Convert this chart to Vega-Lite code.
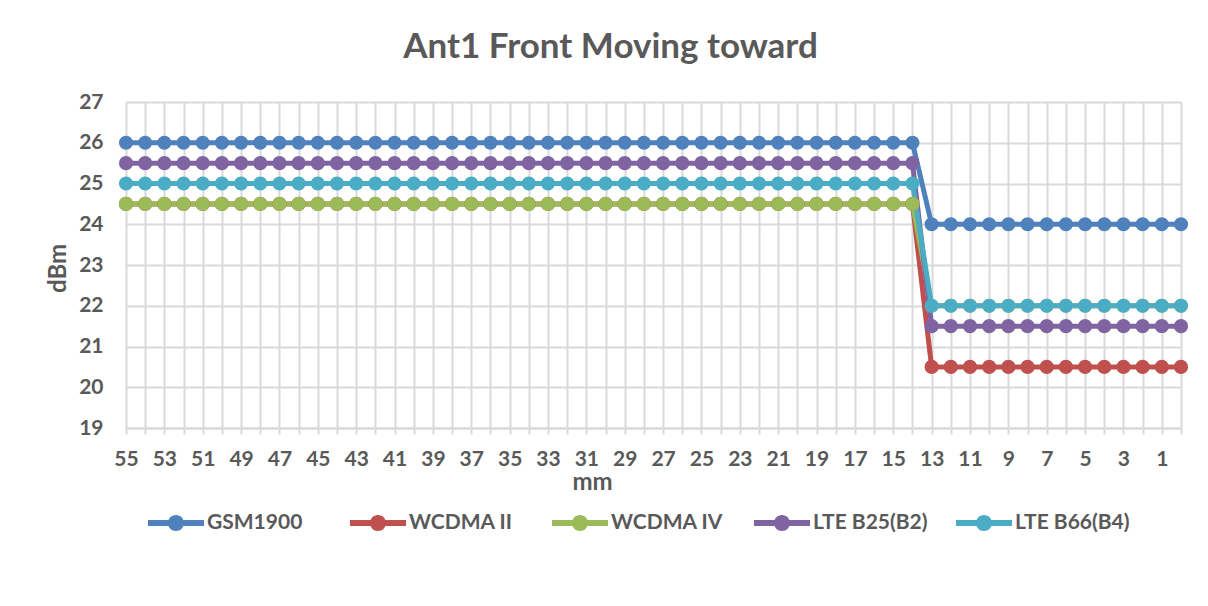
{
  "$schema": "https://vega.github.io/schema/vega-lite/v6.json",
  "autosize": {"type": "none"},
  "width": 1055,
  "height": 326,
  "padding": {"left": 126, "top": 102, "right": 27, "bottom": 178},
  "background": "white",
  "title": {"text": "Ant1 Front Moving toward", "font": "Lato", "fontSize": 35, "fontWeight": "bold", "color": "#595959", "anchor": "middle", "dx": -43, "baseline": "alphabetic", "offset": -2},
  "config": {"view": {"stroke": null}},
  "data": {"values": [
    {"mm":55,"s":"GSM1900","v":26},{"mm":54,"s":"GSM1900","v":26},{"mm":53,"s":"GSM1900","v":26},{"mm":52,"s":"GSM1900","v":26},{"mm":51,"s":"GSM1900","v":26},{"mm":50,"s":"GSM1900","v":26},{"mm":49,"s":"GSM1900","v":26},{"mm":48,"s":"GSM1900","v":26},{"mm":47,"s":"GSM1900","v":26},{"mm":46,"s":"GSM1900","v":26},{"mm":45,"s":"GSM1900","v":26},{"mm":44,"s":"GSM1900","v":26},{"mm":43,"s":"GSM1900","v":26},{"mm":42,"s":"GSM1900","v":26},{"mm":41,"s":"GSM1900","v":26},{"mm":40,"s":"GSM1900","v":26},{"mm":39,"s":"GSM1900","v":26},{"mm":38,"s":"GSM1900","v":26},{"mm":37,"s":"GSM1900","v":26},{"mm":36,"s":"GSM1900","v":26},{"mm":35,"s":"GSM1900","v":26},{"mm":34,"s":"GSM1900","v":26},{"mm":33,"s":"GSM1900","v":26},{"mm":32,"s":"GSM1900","v":26},{"mm":31,"s":"GSM1900","v":26},{"mm":30,"s":"GSM1900","v":26},{"mm":29,"s":"GSM1900","v":26},{"mm":28,"s":"GSM1900","v":26},{"mm":27,"s":"GSM1900","v":26},{"mm":26,"s":"GSM1900","v":26},{"mm":25,"s":"GSM1900","v":26},{"mm":24,"s":"GSM1900","v":26},{"mm":23,"s":"GSM1900","v":26},{"mm":22,"s":"GSM1900","v":26},{"mm":21,"s":"GSM1900","v":26},{"mm":20,"s":"GSM1900","v":26},{"mm":19,"s":"GSM1900","v":26},{"mm":18,"s":"GSM1900","v":26},{"mm":17,"s":"GSM1900","v":26},{"mm":16,"s":"GSM1900","v":26},{"mm":15,"s":"GSM1900","v":26},{"mm":14,"s":"GSM1900","v":26},{"mm":13,"s":"GSM1900","v":24},{"mm":12,"s":"GSM1900","v":24},{"mm":11,"s":"GSM1900","v":24},{"mm":10,"s":"GSM1900","v":24},{"mm":9,"s":"GSM1900","v":24},{"mm":8,"s":"GSM1900","v":24},{"mm":7,"s":"GSM1900","v":24},{"mm":6,"s":"GSM1900","v":24},{"mm":5,"s":"GSM1900","v":24},{"mm":4,"s":"GSM1900","v":24},{"mm":3,"s":"GSM1900","v":24},{"mm":2,"s":"GSM1900","v":24},{"mm":1,"s":"GSM1900","v":24},{"mm":0,"s":"GSM1900","v":24},
    {"mm":55,"s":"WCDMA II","v":24.5},{"mm":54,"s":"WCDMA II","v":24.5},{"mm":53,"s":"WCDMA II","v":24.5},{"mm":52,"s":"WCDMA II","v":24.5},{"mm":51,"s":"WCDMA II","v":24.5},{"mm":50,"s":"WCDMA II","v":24.5},{"mm":49,"s":"WCDMA II","v":24.5},{"mm":48,"s":"WCDMA II","v":24.5},{"mm":47,"s":"WCDMA II","v":24.5},{"mm":46,"s":"WCDMA II","v":24.5},{"mm":45,"s":"WCDMA II","v":24.5},{"mm":44,"s":"WCDMA II","v":24.5},{"mm":43,"s":"WCDMA II","v":24.5},{"mm":42,"s":"WCDMA II","v":24.5},{"mm":41,"s":"WCDMA II","v":24.5},{"mm":40,"s":"WCDMA II","v":24.5},{"mm":39,"s":"WCDMA II","v":24.5},{"mm":38,"s":"WCDMA II","v":24.5},{"mm":37,"s":"WCDMA II","v":24.5},{"mm":36,"s":"WCDMA II","v":24.5},{"mm":35,"s":"WCDMA II","v":24.5},{"mm":34,"s":"WCDMA II","v":24.5},{"mm":33,"s":"WCDMA II","v":24.5},{"mm":32,"s":"WCDMA II","v":24.5},{"mm":31,"s":"WCDMA II","v":24.5},{"mm":30,"s":"WCDMA II","v":24.5},{"mm":29,"s":"WCDMA II","v":24.5},{"mm":28,"s":"WCDMA II","v":24.5},{"mm":27,"s":"WCDMA II","v":24.5},{"mm":26,"s":"WCDMA II","v":24.5},{"mm":25,"s":"WCDMA II","v":24.5},{"mm":24,"s":"WCDMA II","v":24.5},{"mm":23,"s":"WCDMA II","v":24.5},{"mm":22,"s":"WCDMA II","v":24.5},{"mm":21,"s":"WCDMA II","v":24.5},{"mm":20,"s":"WCDMA II","v":24.5},{"mm":19,"s":"WCDMA II","v":24.5},{"mm":18,"s":"WCDMA II","v":24.5},{"mm":17,"s":"WCDMA II","v":24.5},{"mm":16,"s":"WCDMA II","v":24.5},{"mm":15,"s":"WCDMA II","v":24.5},{"mm":14,"s":"WCDMA II","v":24.5},{"mm":13,"s":"WCDMA II","v":20.5},{"mm":12,"s":"WCDMA II","v":20.5},{"mm":11,"s":"WCDMA II","v":20.5},{"mm":10,"s":"WCDMA II","v":20.5},{"mm":9,"s":"WCDMA II","v":20.5},{"mm":8,"s":"WCDMA II","v":20.5},{"mm":7,"s":"WCDMA II","v":20.5},{"mm":6,"s":"WCDMA II","v":20.5},{"mm":5,"s":"WCDMA II","v":20.5},{"mm":4,"s":"WCDMA II","v":20.5},{"mm":3,"s":"WCDMA II","v":20.5},{"mm":2,"s":"WCDMA II","v":20.5},{"mm":1,"s":"WCDMA II","v":20.5},{"mm":0,"s":"WCDMA II","v":20.5},
    {"mm":55,"s":"WCDMA IV","v":24.5},{"mm":54,"s":"WCDMA IV","v":24.5},{"mm":53,"s":"WCDMA IV","v":24.5},{"mm":52,"s":"WCDMA IV","v":24.5},{"mm":51,"s":"WCDMA IV","v":24.5},{"mm":50,"s":"WCDMA IV","v":24.5},{"mm":49,"s":"WCDMA IV","v":24.5},{"mm":48,"s":"WCDMA IV","v":24.5},{"mm":47,"s":"WCDMA IV","v":24.5},{"mm":46,"s":"WCDMA IV","v":24.5},{"mm":45,"s":"WCDMA IV","v":24.5},{"mm":44,"s":"WCDMA IV","v":24.5},{"mm":43,"s":"WCDMA IV","v":24.5},{"mm":42,"s":"WCDMA IV","v":24.5},{"mm":41,"s":"WCDMA IV","v":24.5},{"mm":40,"s":"WCDMA IV","v":24.5},{"mm":39,"s":"WCDMA IV","v":24.5},{"mm":38,"s":"WCDMA IV","v":24.5},{"mm":37,"s":"WCDMA IV","v":24.5},{"mm":36,"s":"WCDMA IV","v":24.5},{"mm":35,"s":"WCDMA IV","v":24.5},{"mm":34,"s":"WCDMA IV","v":24.5},{"mm":33,"s":"WCDMA IV","v":24.5},{"mm":32,"s":"WCDMA IV","v":24.5},{"mm":31,"s":"WCDMA IV","v":24.5},{"mm":30,"s":"WCDMA IV","v":24.5},{"mm":29,"s":"WCDMA IV","v":24.5},{"mm":28,"s":"WCDMA IV","v":24.5},{"mm":27,"s":"WCDMA IV","v":24.5},{"mm":26,"s":"WCDMA IV","v":24.5},{"mm":25,"s":"WCDMA IV","v":24.5},{"mm":24,"s":"WCDMA IV","v":24.5},{"mm":23,"s":"WCDMA IV","v":24.5},{"mm":22,"s":"WCDMA IV","v":24.5},{"mm":21,"s":"WCDMA IV","v":24.5},{"mm":20,"s":"WCDMA IV","v":24.5},{"mm":19,"s":"WCDMA IV","v":24.5},{"mm":18,"s":"WCDMA IV","v":24.5},{"mm":17,"s":"WCDMA IV","v":24.5},{"mm":16,"s":"WCDMA IV","v":24.5},{"mm":15,"s":"WCDMA IV","v":24.5},{"mm":14,"s":"WCDMA IV","v":24.5},{"mm":13,"s":"WCDMA IV","v":22},{"mm":12,"s":"WCDMA IV","v":22},{"mm":11,"s":"WCDMA IV","v":22},{"mm":10,"s":"WCDMA IV","v":22},{"mm":9,"s":"WCDMA IV","v":22},{"mm":8,"s":"WCDMA IV","v":22},{"mm":7,"s":"WCDMA IV","v":22},{"mm":6,"s":"WCDMA IV","v":22},{"mm":5,"s":"WCDMA IV","v":22},{"mm":4,"s":"WCDMA IV","v":22},{"mm":3,"s":"WCDMA IV","v":22},{"mm":2,"s":"WCDMA IV","v":22},{"mm":1,"s":"WCDMA IV","v":22},{"mm":0,"s":"WCDMA IV","v":22},
    {"mm":55,"s":"LTE B25(B2)","v":25.5},{"mm":54,"s":"LTE B25(B2)","v":25.5},{"mm":53,"s":"LTE B25(B2)","v":25.5},{"mm":52,"s":"LTE B25(B2)","v":25.5},{"mm":51,"s":"LTE B25(B2)","v":25.5},{"mm":50,"s":"LTE B25(B2)","v":25.5},{"mm":49,"s":"LTE B25(B2)","v":25.5},{"mm":48,"s":"LTE B25(B2)","v":25.5},{"mm":47,"s":"LTE B25(B2)","v":25.5},{"mm":46,"s":"LTE B25(B2)","v":25.5},{"mm":45,"s":"LTE B25(B2)","v":25.5},{"mm":44,"s":"LTE B25(B2)","v":25.5},{"mm":43,"s":"LTE B25(B2)","v":25.5},{"mm":42,"s":"LTE B25(B2)","v":25.5},{"mm":41,"s":"LTE B25(B2)","v":25.5},{"mm":40,"s":"LTE B25(B2)","v":25.5},{"mm":39,"s":"LTE B25(B2)","v":25.5},{"mm":38,"s":"LTE B25(B2)","v":25.5},{"mm":37,"s":"LTE B25(B2)","v":25.5},{"mm":36,"s":"LTE B25(B2)","v":25.5},{"mm":35,"s":"LTE B25(B2)","v":25.5},{"mm":34,"s":"LTE B25(B2)","v":25.5},{"mm":33,"s":"LTE B25(B2)","v":25.5},{"mm":32,"s":"LTE B25(B2)","v":25.5},{"mm":31,"s":"LTE B25(B2)","v":25.5},{"mm":30,"s":"LTE B25(B2)","v":25.5},{"mm":29,"s":"LTE B25(B2)","v":25.5},{"mm":28,"s":"LTE B25(B2)","v":25.5},{"mm":27,"s":"LTE B25(B2)","v":25.5},{"mm":26,"s":"LTE B25(B2)","v":25.5},{"mm":25,"s":"LTE B25(B2)","v":25.5},{"mm":24,"s":"LTE B25(B2)","v":25.5},{"mm":23,"s":"LTE B25(B2)","v":25.5},{"mm":22,"s":"LTE B25(B2)","v":25.5},{"mm":21,"s":"LTE B25(B2)","v":25.5},{"mm":20,"s":"LTE B25(B2)","v":25.5},{"mm":19,"s":"LTE B25(B2)","v":25.5},{"mm":18,"s":"LTE B25(B2)","v":25.5},{"mm":17,"s":"LTE B25(B2)","v":25.5},{"mm":16,"s":"LTE B25(B2)","v":25.5},{"mm":15,"s":"LTE B25(B2)","v":25.5},{"mm":14,"s":"LTE B25(B2)","v":25.5},{"mm":13,"s":"LTE B25(B2)","v":21.5},{"mm":12,"s":"LTE B25(B2)","v":21.5},{"mm":11,"s":"LTE B25(B2)","v":21.5},{"mm":10,"s":"LTE B25(B2)","v":21.5},{"mm":9,"s":"LTE B25(B2)","v":21.5},{"mm":8,"s":"LTE B25(B2)","v":21.5},{"mm":7,"s":"LTE B25(B2)","v":21.5},{"mm":6,"s":"LTE B25(B2)","v":21.5},{"mm":5,"s":"LTE B25(B2)","v":21.5},{"mm":4,"s":"LTE B25(B2)","v":21.5},{"mm":3,"s":"LTE B25(B2)","v":21.5},{"mm":2,"s":"LTE B25(B2)","v":21.5},{"mm":1,"s":"LTE B25(B2)","v":21.5},{"mm":0,"s":"LTE B25(B2)","v":21.5},
    {"mm":55,"s":"LTE B66(B4)","v":25},{"mm":54,"s":"LTE B66(B4)","v":25},{"mm":53,"s":"LTE B66(B4)","v":25},{"mm":52,"s":"LTE B66(B4)","v":25},{"mm":51,"s":"LTE B66(B4)","v":25},{"mm":50,"s":"LTE B66(B4)","v":25},{"mm":49,"s":"LTE B66(B4)","v":25},{"mm":48,"s":"LTE B66(B4)","v":25},{"mm":47,"s":"LTE B66(B4)","v":25},{"mm":46,"s":"LTE B66(B4)","v":25},{"mm":45,"s":"LTE B66(B4)","v":25},{"mm":44,"s":"LTE B66(B4)","v":25},{"mm":43,"s":"LTE B66(B4)","v":25},{"mm":42,"s":"LTE B66(B4)","v":25},{"mm":41,"s":"LTE B66(B4)","v":25},{"mm":40,"s":"LTE B66(B4)","v":25},{"mm":39,"s":"LTE B66(B4)","v":25},{"mm":38,"s":"LTE B66(B4)","v":25},{"mm":37,"s":"LTE B66(B4)","v":25},{"mm":36,"s":"LTE B66(B4)","v":25},{"mm":35,"s":"LTE B66(B4)","v":25},{"mm":34,"s":"LTE B66(B4)","v":25},{"mm":33,"s":"LTE B66(B4)","v":25},{"mm":32,"s":"LTE B66(B4)","v":25},{"mm":31,"s":"LTE B66(B4)","v":25},{"mm":30,"s":"LTE B66(B4)","v":25},{"mm":29,"s":"LTE B66(B4)","v":25},{"mm":28,"s":"LTE B66(B4)","v":25},{"mm":27,"s":"LTE B66(B4)","v":25},{"mm":26,"s":"LTE B66(B4)","v":25},{"mm":25,"s":"LTE B66(B4)","v":25},{"mm":24,"s":"LTE B66(B4)","v":25},{"mm":23,"s":"LTE B66(B4)","v":25},{"mm":22,"s":"LTE B66(B4)","v":25},{"mm":21,"s":"LTE B66(B4)","v":25},{"mm":20,"s":"LTE B66(B4)","v":25},{"mm":19,"s":"LTE B66(B4)","v":25},{"mm":18,"s":"LTE B66(B4)","v":25},{"mm":17,"s":"LTE B66(B4)","v":25},{"mm":16,"s":"LTE B66(B4)","v":25},{"mm":15,"s":"LTE B66(B4)","v":25},{"mm":14,"s":"LTE B66(B4)","v":25},{"mm":13,"s":"LTE B66(B4)","v":22},{"mm":12,"s":"LTE B66(B4)","v":22},{"mm":11,"s":"LTE B66(B4)","v":22},{"mm":10,"s":"LTE B66(B4)","v":22},{"mm":9,"s":"LTE B66(B4)","v":22},{"mm":8,"s":"LTE B66(B4)","v":22},{"mm":7,"s":"LTE B66(B4)","v":22},{"mm":6,"s":"LTE B66(B4)","v":22},{"mm":5,"s":"LTE B66(B4)","v":22},{"mm":4,"s":"LTE B66(B4)","v":22},{"mm":3,"s":"LTE B66(B4)","v":22},{"mm":2,"s":"LTE B66(B4)","v":22},{"mm":1,"s":"LTE B66(B4)","v":22},{"mm":0,"s":"LTE B66(B4)","v":22}
  ]},
  "encoding": {
    "x": {"field": "mm", "type": "ordinal", "sort": "descending",
      "scale": {"type": "point", "padding": 0},
      "axis": {"title": "mm", "labelAngle": 0, "labelOverlap": false,
        "labelExpr": "datum.value % 2 == 1 ? datum.label : ''",
        "labelFont": "Lato", "labelFontSize": 21, "labelFontWeight": "bold", "labelColor": "#595959", "labelPadding": 14,
        "domainColor": "#d9d9d9", "domainWidth": 2, "tickColor": "#d9d9d9", "tickWidth": 2, "tickSize": 6,
        "grid": true, "gridColor": "#d9d9d9", "gridWidth": 2,
        "titleFont": "Lato", "titleFontSize": 24, "titleFontWeight": "bold", "titleColor": "#595959",
        "titleX": 466, "titleY": 61, "titleBaseline": "alphabetic", "titleAlign": "center"}},
    "y": {"field": "v", "type": "quantitative",
      "scale": {"domain": [19, 27], "nice": false, "zero": false},
      "axis": {"title": "dBm", "values": [19,20,21,22,23,24,25,26,27], "domain": false, "ticks": false,
        "labelFont": "Lato", "labelFontSize": 21, "labelFontWeight": "bold", "labelColor": "#595959", "labelPadding": 23,
        "grid": true, "gridColor": "#d9d9d9", "gridWidth": 2,
        "titleFont": "Lato", "titleFontSize": 24, "titleFontWeight": "bold", "titleColor": "#595959",
        "titleX": -68, "titleY": 166, "titleAngle": -90, "titleBaseline": "middle", "titleAlign": "center"}},
    "color": {"field": "s", "type": "nominal",
      "scale": {"domain": ["GSM1900", "WCDMA II", "WCDMA IV", "LTE B25(B2)", "LTE B66(B4)"],
                "range": ["#4F81BD", "#C0504D", "#9BBB59", "#8064A2", "#4BACC6"]},
      "legend": {"title": null, "orient": "none", "legendX": 22, "legendY": 393, "direction": "horizontal", "columns": 5, "gridAlign": "all", "columnPadding": 28,
        "symbolType": "M-1,-0.107L1,-0.107L1,0.107L-1,0.107Z M0.286,0A0.286,0.286 0 1,1 -0.286,0A0.286,0.286 0 1,1 0.286,0Z",
        "symbolSize": 3136, "symbolStrokeWidth": 0, "labelOffset": 3,
        "labelFont": "Lato", "labelFontSize": 21, "labelFontWeight": "bold", "labelColor": "#595959",
        "encode": {"symbols": {"update": {"fill": {"scale": "color", "field": "value"}, "strokeWidth": {"value": 0}, "opacity": {"value": 1}}}}}}
  },
  "layer": [
    {"mark": {"type": "line", "strokeWidth": 5}},
    {"mark": {"type": "point", "filled": true, "size": 200, "opacity": 1}}
  ]
}
